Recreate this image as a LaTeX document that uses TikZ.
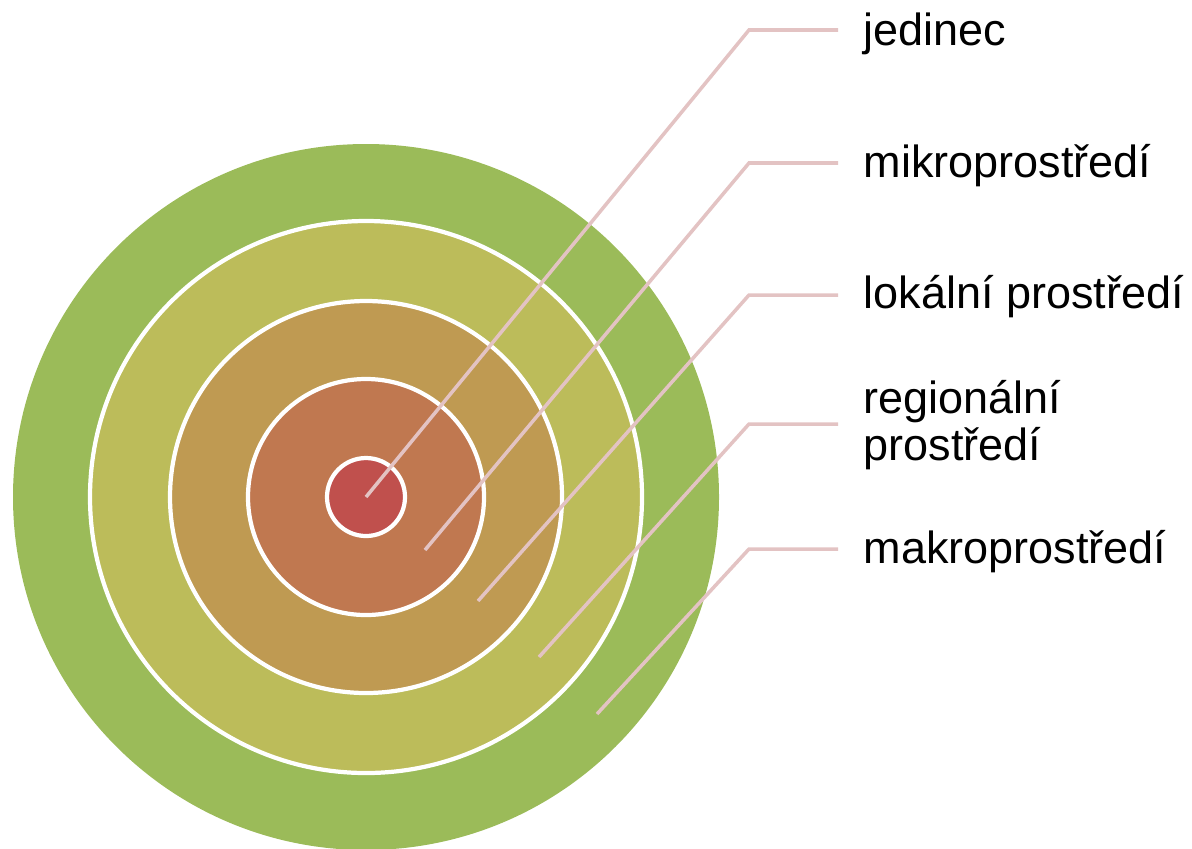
\documentclass[tikz,border=0pt]{standalone}
\usepackage{fontspec}
\setmainfont{Liberation Sans}
\definecolor{cMakro}{HTML}{9BBB59}
\definecolor{cRegion}{HTML}{BCBC5A}
\definecolor{cLokal}{HTML}{BF9A52}
\definecolor{cMikro}{HTML}{C07850}
\definecolor{cJedinec}{HTML}{C0504D}
\definecolor{cLeader}{HTML}{E3C3C3}
\begin{document}
\begin{tikzpicture}[x=0.01cm,y=-0.01cm,
        ring/.style={draw=white,line width=1.2pt},
        leader/.style={draw=cLeader,line width=1pt},
        lbl/.style={inner sep=0pt,font=\fontsize{12.8}{13.4}\selectfont}]
        \useasboundingbox (0,0) rectangle (1192,848);

        % soustredne kruhy
        \fill[cMakro] (366,497) circle (353);
        \filldraw[ring,fill=cRegion] (366,497) circle (276);
        \filldraw[ring,fill=cLokal] (366,497) circle (196);
        \filldraw[ring,fill=cMikro] (366,497) circle (118);
        \filldraw[ring,fill=cJedinec] (366,497) circle (39);

        % popisky
        \node[lbl,anchor=base west] (jedinec) at (863,45) {jedinec};
        \node[lbl,anchor=base west] (mikro) at (863,177) {mikroprostředí};
        \node[lbl,anchor=base west] (lokal) at (863,308) {lokální prostředí};
        \node[lbl,anchor=west,align=left] (region) at (863,425) {regionální\\prostředí};
        \node[lbl,anchor=base west] (makro) at (863,563) {makroprostředí};

        % vodici cary
        \coordinate (jA) at (366,497);
        \coordinate (jB) at (749,30);
        \coordinate (jC) at (838,30);
        \coordinate (mA) at (425,550);
        \coordinate (mB) at (749,163);
        \coordinate (mC) at (838,163);
        \coordinate (lA) at (478,601);
        \coordinate (lB) at (749,295);
        \coordinate (lC) at (838,295);
        \coordinate (rA) at (539,657);
        \coordinate (rB) at (749,424);
        \coordinate (rC) at (838,424);
        \coordinate (kA) at (597,714);
        \coordinate (kB) at (749,549);
        \coordinate (kC) at (838,549);

        \draw[leader] (jA) -- (jB) -- (jC);
        \draw[leader] (mA) -- (mB) -- (mC);
        \draw[leader] (lA) -- (lB) -- (lC);
        \draw[leader] (rA) -- (rB) -- (rC);
        \draw[leader] (kA) -- (kB) -- (kC);
    \end{tikzpicture}
\end{document}
